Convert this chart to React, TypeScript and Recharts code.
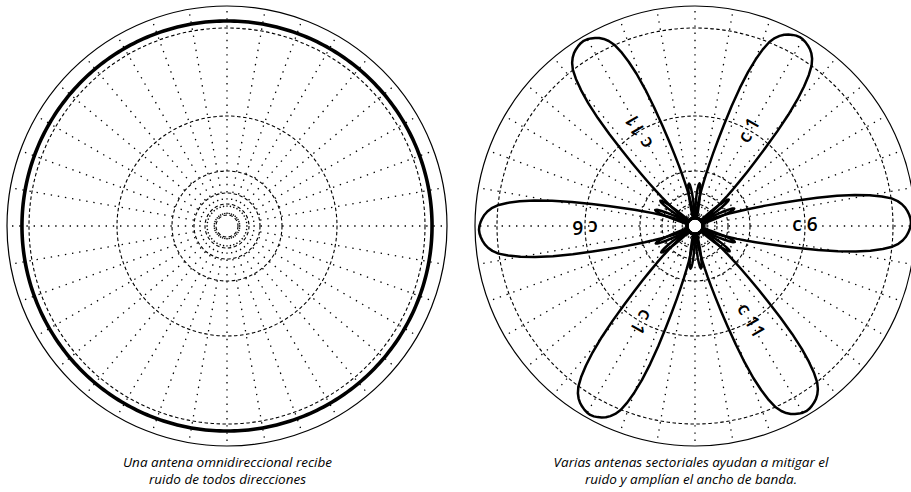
import { RadarChart, Radar, PolarGrid, PolarAngleAxis, PolarRadiusAxis } from "recharts";

// angle categories, 1 degree apart, 0 = right, counter-clockwise
const degrees = Array.from({ length: 360 }, (_, i) => i);
const ringTicks = [5, 10, 15, 25, 50, 90];
const spokeAngles = [0, 10, 20, 30, 40, 50, 60, 70, 80, 90, 100, 110, 120, 130, 140, 150, 160, 170,
  180, 190, 200, 210, 220, 230, 240, 250, 260, 270, 280, 290, 300, 310, 320, 330, 340, 350];

// omnidirectional antenna: same gain everywhere (% of plot radius)
const omniGain = 93.2;

// sector antennas
const lobeCenters = [0, 60, 120, 180, 240, 300];
const lobeLabels = ["c6", "c1", "c11", "c6", "c1", "c11"];
const labelRadius = 50;
// gain, by degrees away from the lobe axis (0..180)
const lobePattern = [
  98.2, 98.0, 97.5, 96.8, 95.9, 94.6, 92.8, 90.2, 86.0, 80.5,
  74.0, 66.0, 57.0, 48.0, 40.5, 34.0, 28.5, 24.0, 20.0, 16.5,
  13.5, 11.0, 9.0, 7.5, 6.5, 5.8, 5.3, 5.0, 4.7, 4.5,
  4.6, 6.0, 8.5, 11.5, 14.5, 17.0, 18.8, 19.5, 19.0, 17.5,
  15.0, 11.5, 8.0, 5.5, 4.2, 3.7, 3.6, 3.7, 3.8, 3.8,
  3.7, 3.6, 3.5, 3.5, 3.6, 3.7, 3.8, 3.8, 3.7, 3.6,
  3.5, 3.5, 3.6, 3.7, 3.8, 3.8, 3.7, 3.6, 3.5, 3.5,
  3.6, 3.7, 3.8, 3.8, 3.7, 3.6, 3.5, 3.5, 3.6, 3.7,
  3.8, 3.8, 3.7, 3.6, 3.5, 3.5, 3.6, 3.7, 3.8, 3.8,
  3.7, 3.6, 3.5, 3.5, 3.6, 3.7, 3.8, 3.8, 3.7, 3.6,
  3.5, 3.5, 3.6, 3.7, 3.8, 3.8, 3.7, 3.6, 3.5, 3.5,
  3.6, 3.7, 3.8, 3.8, 3.7, 3.6, 3.5, 3.5, 3.6, 3.7,
  3.8, 3.8, 3.7, 3.6, 3.5, 3.5, 3.6, 3.7, 3.8, 3.8,
  3.7, 3.6, 3.5, 3.5, 3.6, 3.7, 3.8, 3.8, 3.7, 3.6,
  3.5, 3.5, 3.6, 3.7, 3.8, 3.8, 3.7, 3.6, 3.5, 3.5,
  3.6, 3.7, 3.8, 3.8, 3.7, 3.6, 3.5, 3.5, 3.6, 3.7,
  3.8, 3.8, 3.7, 3.6, 3.5, 3.5, 3.6, 3.7, 3.8, 3.8,
  3.7, 3.6, 3.5, 3.5, 3.6, 3.7, 3.8, 3.8, 3.7, 3.6,
  3.5,
];

const captionLeft = ["Una antena omnidireccional recibe", "ruido de todos direcciones"];
const captionRight = ["Varias antenas sectoriales ayudan a mitigar el", "ruido y amplían el ancho de banda."];

const omniData = degrees.map((deg) => ({ deg, gain: omniGain }));

const sectorData = degrees.map((deg) => {
  const row: Record<string, number | string> = { deg };
  lobeCenters.forEach((c, k) => {
    const off = Math.abs(((deg - c + 540) % 360) - 180);
    row[`l${k}`] = lobePattern[off];
  });
  const li = lobeCenters.indexOf(deg);
  row.lbl = li >= 0 ? lobeLabels[li] : "";
  row.lblR = labelRadius;
  return row;
});

const INK = "#000";
const spokeDash = "0 12 " + "1.4 5.8 ".repeat(36);

function frame() {
  return [
    <PolarGrid key="rings" gridType="circle" radialLines={false} stroke={INK} strokeWidth={1.1} strokeDasharray="3.5 2.5" />,
    <PolarGrid key="spokes" gridType="circle" polarAngles={spokeAngles} polarRadius={[]} stroke={INK} strokeWidth={1.3} strokeDasharray={spokeDash} />,
    <PolarAngleAxis key="aa" dataKey="deg" tick={false} tickLine={false} axisLineType="circle" axisLine={{ stroke: INK, strokeWidth: 1.2 }} />,
    <PolarRadiusAxis key="ra" type="number" angle={0} domain={[0, 100]} ticks={ringTicks} tick={false} axisLine={false} />,
  ];
}

function LobeLabel(props: any) {
  const p = props.payload ?? {};
  const row = p.payload ?? p;
  const x = props.cx ?? p.x;
  const y = props.cy ?? p.y;
  if (!row || !row.lbl) return <g key={props.key ?? `d${props.index}`} />;
  const txt = String(row.lbl);
  return (
    <text
      key={props.key ?? `d${props.index}`}
      x={x}
      y={y}
      textAnchor="middle"
      dominantBaseline="central"
      transform={`rotate(${-row.deg} ${x} ${y})`}
      style={{ fontFamily: "'Open Sans', Lato, sans-serif", fontSize: 19, fontWeight: 600, fill: "#000" }}
    >
      <tspan>{txt.slice(0, 1)}</tspan>
      <tspan dx={5}>{txt.slice(1)}</tspan>
    </text>
  );
}

const captionStyle: React.CSSProperties = {
  position: "absolute",
  top: 454,
  textAlign: "center",
  fontFamily: "'Open Sans', Lato, sans-serif",
  fontStyle: "italic",
  fontSize: 13.5,
  lineHeight: "17px",
  color: "#000",
};

export default function App() {
  return (
    <div style={{ position: "absolute", left: 0, top: 0, width: 911, height: 492, background: "#fff", overflow: "hidden" }}>
      <div style={{ position: "absolute", left: 0, top: 0 }}>
        <RadarChart width={455} height={452} data={omniData} cx={227} cy={226} outerRadius={220}
          startAngle={0} endAngle={360} margin={{ top: 0, right: 0, bottom: 0, left: 0 }}>
          {frame()}
          <Radar dataKey="gain" stroke="#000" strokeWidth={3.6} fill="none" dot={false} isAnimationActive={false} />
        </RadarChart>
      </div>
      <div style={{ position: "absolute", left: 455, top: 0 }}>
        <RadarChart width={456} height={452} data={sectorData} cx={240} cy={226} outerRadius={220}
          startAngle={0} endAngle={360} margin={{ top: 0, right: 0, bottom: 0, left: 0 }}>
          {frame()}
          {lobeCenters.map((c, k) => (
            <Radar key={c} dataKey={`l${k}`} stroke="#000" strokeWidth={2.5} strokeLinejoin="round"
              fill="none" dot={false} isAnimationActive={false} />
          ))}
          <Radar dataKey="lblR" stroke="#fff" strokeOpacity={0} fill="#fff" fillOpacity={0} dot={LobeLabel} isAnimationActive={false} />
        </RadarChart>
      </div>
      <div style={{ ...captionStyle, left: 0, width: 455 }}>
        {captionLeft.map((t) => <div key={t}>{t}</div>)}
      </div>
      <div style={{ ...captionStyle, left: 455, width: 472 }}>
        {captionRight.map((t) => <div key={t}>{t}</div>)}
      </div>
    </div>
  );
}
